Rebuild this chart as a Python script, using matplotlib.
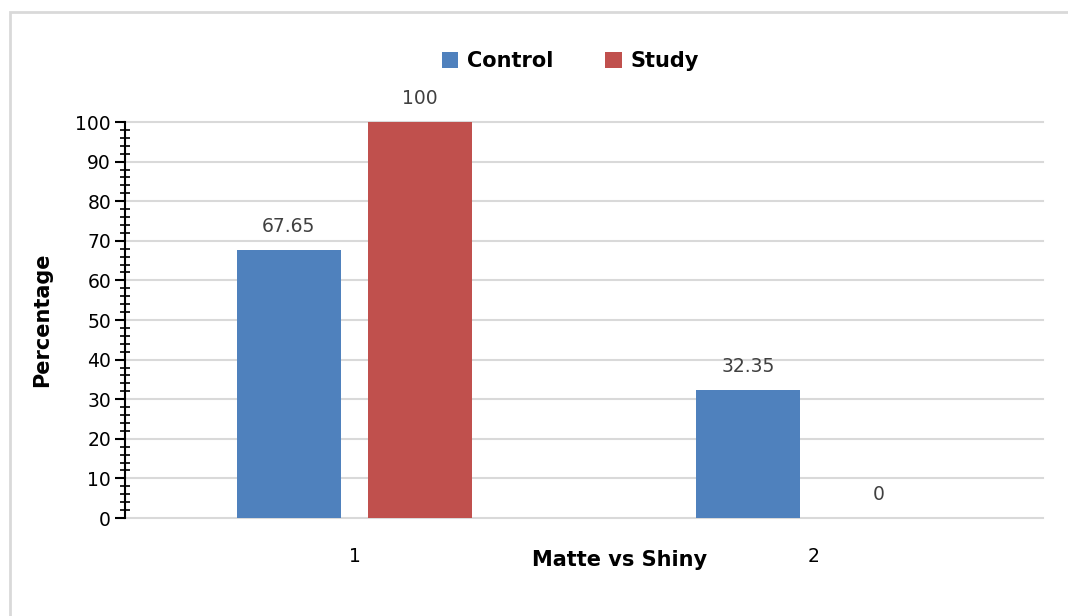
import matplotlib
matplotlib.use('Agg')
import matplotlib.pyplot as plt
from matplotlib.patches import Rectangle
from matplotlib.ticker import MultipleLocator
import numpy as np

# data
categories = ['1', '2']
series_names = ['Control', 'Study']
control = [67.65, 32.35]
study = [100, 0]
value_labels = [['67.65', '32.35'], ['100', '0']]

colors = ['#4F81BD', '#C0504D']

W, H = 1068, 616
fig = plt.figure(figsize=(W / 100, H / 100), dpi=100)

# light grey chart border (only top/left visible)
fig.add_artist(Rectangle((10 / W, -0.1), 1.2, (616 - 12) / H + 0.1,
                         transform=fig.transFigure, fill=False,
                         edgecolor='#D9D9D9', linewidth=2))

ax = fig.add_axes([125 / W, (H - 518) / H, 918 / W, 396 / H])

x = np.arange(len(categories))
width = 0.227
offset = 0.143
for i, (vals, name) in enumerate(zip([control, study], series_names)):
    pos = x + (-offset if i == 0 else offset)
    ax.bar(pos, vals, width, color=colors[i], label=name, zorder=3)
    for p, v, lab in zip(pos, vals, value_labels[i]):
        ax.text(p, v + 3.5, lab, ha='center', va='bottom',
                fontsize=13.5, color='#404040')

ax.set_xlim(-0.5, 1.5)
ax.set_ylim(0, 100)
ax.yaxis.set_major_locator(MultipleLocator(10))
ax.yaxis.set_minor_locator(MultipleLocator(2))
ax.grid(True, axis='y', color='#D9D9D9', linewidth=1.5, zorder=0)
ax.set_axisbelow(True)
for gl in ax.get_ygridlines():
    gl.set_clip_on(False)

for s in ['top', 'right', 'bottom']:
    ax.spines[s].set_visible(False)
ax.spines['left'].set_linewidth(1.5)
ax.spines['left'].set_zorder(4)

ax.tick_params(axis='y', which='major', direction='out', length=7, width=1.5,
               labelsize=13.5, pad=3)
ax.tick_params(axis='y', which='minor', direction='inout', length=7, width=1.2)
ax.set_xticks(x)
ax.set_xticklabels(categories, fontsize=13.5)
ax.tick_params(axis='x', length=0, pad=21)

fig.text(620 / W, 1 - 560 / H, 'Matte vs Shiny', ha='center', va='center',
         fontsize=15, fontweight='bold')
fig.text(42 / W, 1 - 320 / H, 'Percentage', ha='center', va='center',
         rotation=90, fontsize=15, fontweight='bold')

leg = fig.legend(loc='center', bbox_to_anchor=(570 / W, 1 - 61 / H), ncol=2,
                 frameon=False, prop={'weight': 'bold', 'size': 15},
                 handlelength=0.8, handleheight=0.8, handletextpad=0.4,
                 columnspacing=2.5)

plt.savefig('out.png', dpi=100)
